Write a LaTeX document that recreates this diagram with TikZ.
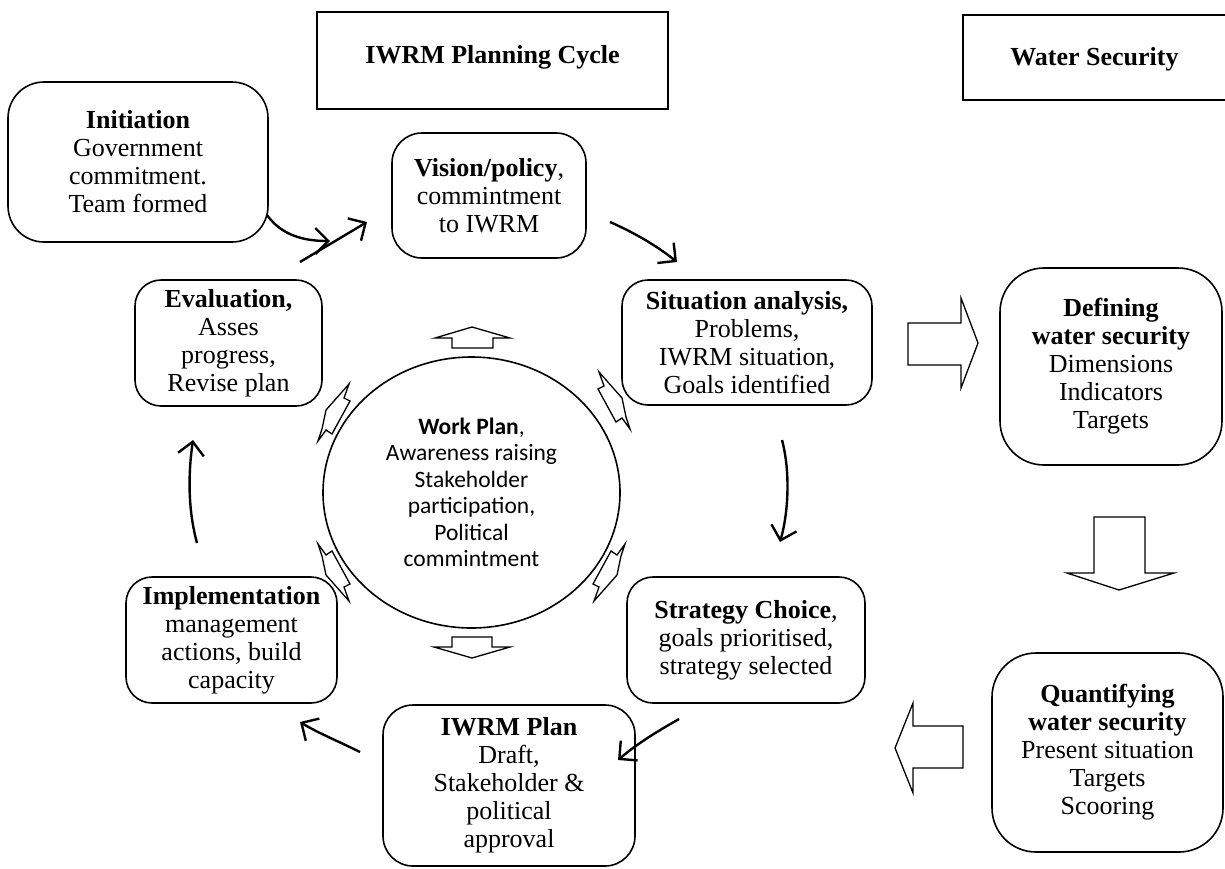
\documentclass[tikz,border=0pt]{standalone}
\usepackage{fontspec}
\setmainfont{Liberation Serif}
\newfontfamily\calib{Carlito}
\usetikzlibrary{arrows.meta,calc,shapes.geometric}
\tikzset{
  box/.style={draw,line width=1.6pt,align=center,inner sep=0pt,font=\fontsize{26}{28}\selectfont},
  rbox/.style={box,rounded corners=#1},
  rbox/.default=26pt,
  flow/.style={line width=2.4pt,-{Straight Barb[length=13pt,width=26pt,line width=2.4pt]}},
  blk/.style={draw,line width=1.3pt,fill=white,line join=miter},
}
\newcommand\tangarrow{\draw[blk] (349,384) -- (344,398) -- (350,401) -- (332,434) -- (326,430) -- (318,441) -- (322,429) -- (326,410) -- cycle;}
\begin{document}
\begin{tikzpicture}[x=1pt,y=-1pt]
\useasboundingbox (0,0) rectangle (1225,868);
% titles
\node[box,minimum width=351pt,minimum height=97pt] (title) at (492.5,60.5) {\raisebox{-5.5pt}{\smash{\textbf{IWRM Planning Cycle}}}};
\node[box,minimum width=263pt,minimum height=85pt] (wstitle) at (1094.5,57.5) {\raisebox{-16pt}{\smash{\textbf{Water Security}}}};
% cycle boxes
\node[rbox=36pt,minimum width=260pt,minimum height=160pt] (init) at (138,162) {\textbf{Initiation}\\Government\\commitment.\\Team formed};
\node[rbox=30pt,minimum width=194pt,minimum height=125pt] (vision) at (489,195.5) {\textbf{Vision/policy},\\commintment\\to IWRM};
\node[rbox=26pt,minimum width=250pt,minimum height=125pt] (sit) at (747,342.5) {\textbf{Situation analysis,}\\Problems,\\IWRM situation,\\Goals identified};
\node[rbox=26pt,minimum width=238pt,minimum height=126pt] (strat) at (746,640) {\textbf{Strategy Choice},\\goals prioritised,\\strategy selected};
\node[rbox=30pt,minimum width=252pt,minimum height=161pt] (plan) at (509,785.5) {\textbf{IWRM Plan}\\Draft,\\Stakeholder \&\\political\\approval};
\node[rbox=26pt,minimum width=211pt,minimum height=126pt] (impl) at (231.5,640) {\textbf{Implementation}\\management\\actions, build\\capacity};
\node[rbox=26pt,minimum width=187pt,minimum height=126pt] (eval) at (228.5,343) {\textbf{Evaluation,}\\Asses\\progress,\\Revise plan};
% water security boxes
\node[rbox=44pt,minimum width=222pt,minimum height=197pt] (def) at (1111,366.5) {\textbf{Defining}\\\textbf{water security}\\Dimensions\\Indicators\\Targets};
\node[rbox=44pt,minimum width=231pt,minimum height=199pt] (quant) at (1107.5,752.5) {\textbf{Quantifying}\\\textbf{water security}\\Present situation\\Targets\\Scooring};
% central circle
\node[draw,line width=1.6pt,ellipse,minimum width=297pt,minimum height=271pt,inner sep=0pt,align=center,
  font=\calib\fontsize{23.5}{26.5}\selectfont] (work) at (471.5,492.5)
  {\textbf{Work Plan},\\Awareness raising\\Stakeholder\\participation,\\Political\\commintment};
% connector end points
\coordinate (a1s) at (267,215); \coordinate (a1e) at (330,241);
\coordinate (a2s) at (300,262); \coordinate (a2e) at (367,222);
\coordinate (a3s) at (610,222); \coordinate (a3e) at (677,262);
\coordinate (a4s) at (782,440); \coordinate (a4e) at (780,542);
\coordinate (a5s) at (679,719); \coordinate (a5e) at (618,760);
\coordinate (a6s) at (360,752); \coordinate (a6e) at (300,722);
\coordinate (a7s) at (197,543); \coordinate (a7e) at (193,440);
\draw[flow] (a1s) .. controls (282,236) and (305,241) .. (a1e);
\draw[flow] (a2s) -- (a2e);
\draw[flow] (a3s) .. controls (635,233) and (657,246) .. (a3e);
\draw[flow] (a4s) .. controls (790,470) and (789,510) .. (a4e);
\draw[flow] (a5s) .. controls (658,731) and (638,743) .. (a5e);
\draw[flow] (a6s) .. controls (340,742) and (318,733) .. (a6e);
\draw[flow] (a7s) .. controls (188,510) and (188,475) .. (a7e);
% big block arrows
\draw[blk] (908,323) -- (961,323) -- (961,298) -- (978,343) -- (961,388) -- (961,365) -- (908,365) -- cycle;
\draw[blk] (1094,517) -- (1145,517) -- (1145,573) -- (1174,573) -- (1119,590) -- (1067,573) -- (1094,573) -- cycle;
\draw[blk] (963,726) -- (913,726) -- (913,703) -- (895,748) -- (913,793) -- (913,768) -- (963,768) -- cycle;
% small block arrows round the circle
\draw[blk] (452,348) -- (452,338) -- (435,338) -- (472,327) -- (510,338) -- (493,338) -- (493,348) -- cycle;
\draw[blk] (452,637) -- (492,637) -- (492,647) -- (510,647) -- (472,658) -- (434,647) -- (452,647) -- cycle;
% thin tangent arrows
\tangarrow
\begin{scope}[shift={(948,-12)},xscale=-1]\tangarrow\end{scope}
\begin{scope}[shift={(0,985)},yscale=-1]\tangarrow\end{scope}
\begin{scope}[shift={(943,985)},scale=-1]\tangarrow\end{scope}
\end{tikzpicture}
\end{document}
